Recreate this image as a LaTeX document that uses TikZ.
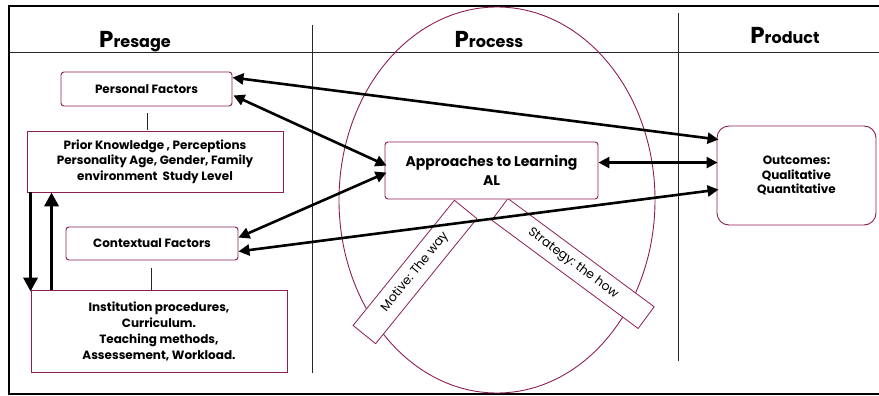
\documentclass[tikz,border=0pt]{standalone}
\usepackage{fontspec}
\setmainfont{Poppins}
\usetikzlibrary{calc,arrows.meta}
\definecolor{mag}{RGB}{140,30,85}
\tikzset{
  box/.style={draw=mag,line width=0.9pt,fill=white,align=center,inner sep=2pt,font=\bfseries\fontsize{12}{15.5}\selectfont},
  rbox/.style={box,rounded corners=3pt},
  bar/.style={draw=mag,line width=0.8pt,fill=white,minimum height=29pt,inner sep=0pt,font=\fontsize{12.5}{14}\selectfont},
  dbl/.style={line width=2.6pt,{Triangle[length=11pt,width=11pt]}-{Triangle[length=11pt,width=11pt]}},
  vert/.style={line width=3.6pt,-{Triangle[length=14pt,width=14pt]}},
  thin/.style={line width=0.6pt,black!85},
  head/.style={anchor=base,font=\bfseries}
}
\newcommand{\hd}[2]{{\fontsize{23}{24}\selectfont #1}{\fontsize{16}{18}\selectfont #2}}
\begin{document}
\begin{tikzpicture}[x=1pt,y=-1pt]
\useasboundingbox (0,0) rectangle (879,396);
% frame
\draw[line width=1.8pt] (879,6) -- (9,6) -- (9,394) -- (879,394);
\draw[thin] (9,52) -- (879,52);
\draw[thin] (312,25) -- (312,373);
\draw[thin] (678,13) -- (678,361);
% headers
\node[head] (hpre) at (135,48) {\hd{P}{resage}};
\node[head] (hpro) at (489,48) {\hd{P}{rocess}};
\node[head] (hprd) at (785,44) {\hd{P}{roduct}};
% ellipse
\draw[mag,line width=0.9pt] (497,200) ellipse [x radius=158,y radius=193];
% bars
\node[bar,minimum width=161pt,rotate=51] (mot) at (415,272) {Motive:\ The way};
\node[bar,minimum width=182pt,minimum height=27pt,rotate=-36.5] (str) at (573,263.5) {Strategy:\ the how};
% boxes
\node[rbox,minimum width=171pt,minimum height=34pt] (pf) at (146.5,89) {Personal Factors};
\node[box,minimum width=256pt,minimum height=61pt] (pk) at (155,161.5) {Prior Knowledge , Perceptions\\Personality Age, Gender, Family\\environment\ \ Study Level};
\node[rbox,minimum width=172pt,minimum height=33pt] (cf) at (152,243.5) {Contextual Factors};
\node[box,minimum width=256pt,minimum height=82pt,font=\bfseries\fontsize{12}{16}\selectfont] (ip) at (159,331) {Institution procedures,\\Curriculum.\\Teaching methods,\\Assessement, Workload.};
\node[rbox,minimum width=213pt,minimum height=57pt,font=\bfseries\fontsize{14}{19}\selectfont] (al) at (491.5,170.5) {Approaches to Learning\\AL};
\node[box,rounded corners=12pt,minimum width=159pt,minimum height=99pt,font=\bfseries\fontsize{12}{14.5}\selectfont] (oc) at (796.5,175.5) {Outcomes:\\Qualitative\\Quantitative};
% thin links
\draw[thin] ($(pf.south)+(0.5,7)$) -- ($(pk.north)+(-8,-1)$);
\draw[thin] ($(cf.south)+(-1,8)$) -- ($(ip.north)+(-8,0)$);
% vertical arrows
\draw[vert] ($(pk.south west)+(4,0)$) -- ($(ip.north west)+(0,2)$);
\draw[vert] ($(ip.north west)+(21,0)$) -- ($(pk.south west)+(25,0)$);
% arrows
\draw[dbl] ($(pf.north east)+(0,6)$) -- ($(oc.north west)+(2,14)$);
\draw[dbl] ($(pf.south east)+(1,-11)$) -- ($(al.north west)+(2,24)$);
\draw[dbl] ($(al.north east)+(0,21)$) -- ($(oc.north west)+(1,37)$);
\draw[dbl] ($(cf.north east)+(0,11)$) -- ($(al.north west)+(2,31)$);
\draw[dbl] ($(cf.south east)+(0,-9)$) -- ($(oc.north west)+(2,64)$);
\end{tikzpicture}
\end{document}
